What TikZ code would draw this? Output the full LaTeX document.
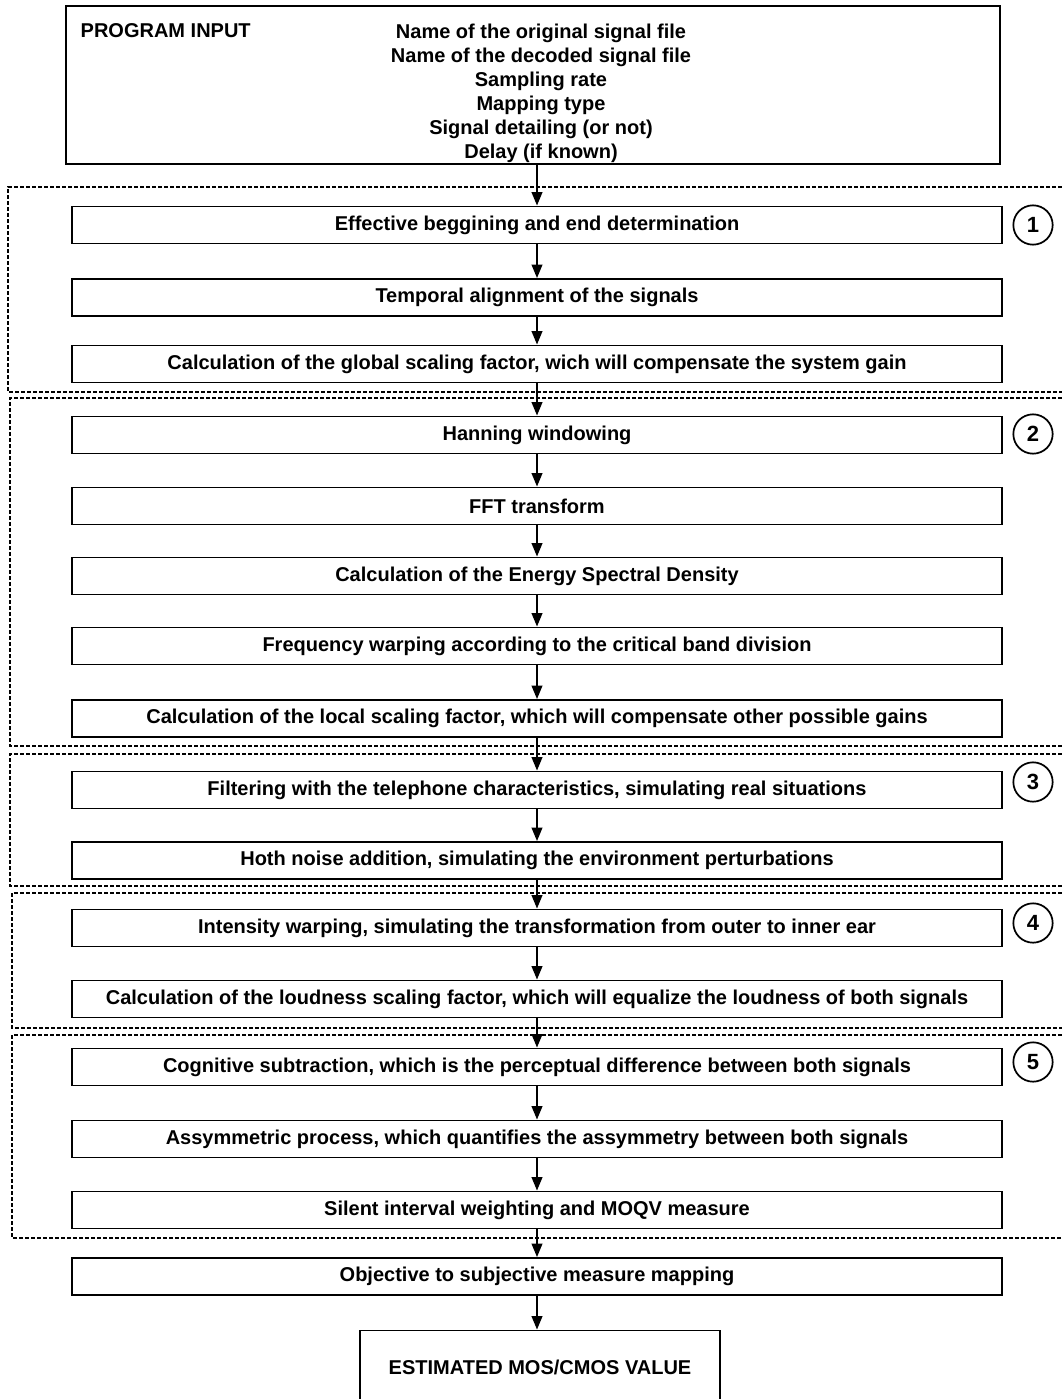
\documentclass[tikz,border=0pt]{standalone}
\usepackage{fontspec}
\setmainfont{Liberation Sans}
\usetikzlibrary{arrows.meta}
\begin{document}
\begin{tikzpicture}[x=0.75pt,y=-0.75pt,
  box/.style={draw,line width=1.2pt,minimum width=697.5pt,minimum height=28pt,inner sep=0pt,font=\fontsize{15}{17}\selectfont\bfseries},
  num/.style={draw,circle,line width=1.3pt,minimum size=29.5pt,inner sep=0pt,text height=11.5pt,text depth=0pt,font=\fontsize{16.5}{18}\selectfont\bfseries},
  grp/.style={line width=0.8pt,dash pattern=on 3pt off 1.5pt},
  arr/.style={line width=1.2pt,-{Triangle[length=10pt,width=8pt]}}]
\useasboundingbox (0,0) rectangle (1062,1399);
% input box
\node[draw,line width=1.2pt,minimum width=700.5pt,minimum height=118.5pt,inner sep=0pt] (input) at (533,85) {};
\node[anchor=west,font=\fontsize{15}{17}\selectfont\bfseries] (pin) at (76,31) {PROGRAM INPUT};
\node[align=center,anchor=north,font=\fontsize{15}{18}\selectfont\bfseries] (inlist) at (541,19)
 {Name of the original signal file\\Name of the decoded signal file\\Sampling rate\\Mapping type\\Signal detailing (or not)\\Delay (if known)};
% group outlines
\draw[grp] (1062,187) -- (8,187) -- (8,392) -- (1062,392);
\draw[grp] (1062,398) -- (10,398) -- (10,746) -- (1062,746);
\draw[grp] (1062,754) -- (10,754) -- (10,886) -- (1062,886);
\draw[grp] (1062,893) -- (12,893) -- (12,1028) -- (1062,1028);
\draw[grp] (1062,1035) -- (12,1035) -- (12,1238) -- (1062,1238);
% steps
\node[box] (b1) at (537,225) {Effective beggining and end determination};
\node[box] (b2) at (537,297.5) {Temporal alignment of the signals};
\node[box] (b3) at (537,364) {Calculation of the global scaling factor, wich will compensate the system gain};
\node[box] (b4) at (537,435) {Hanning windowing};
\node[box] (b5) at (537,506) {FFT transform};
\node[box] (b6) at (537,576) {Calculation of the Energy Spectral Density};
\node[box] (b7) at (537,646) {Frequency warping according to the critical band division};
\node[box] (b8) at (537,718.5) {Calculation of the local scaling factor, which will compensate other possible gains};
\node[box] (b9) at (537,790) {Filtering with the telephone characteristics, simulating real situations};
\node[box] (b10) at (537,860.5) {Hoth noise addition, simulating the environment perturbations};
\node[box] (b11) at (537,928) {Intensity warping, simulating the transformation from outer to inner ear};
\node[box] (b12) at (537,999) {Calculation of the loudness scaling factor, which will equalize the loudness of both signals};
\node[box] (b13) at (537,1067) {Cognitive subtraction, which is the perceptual difference between both signals};
\node[box] (b14) at (537,1139) {Assymmetric process, which quantifies the assymmetry between both signals};
\node[box] (b15) at (537,1210) {Silent interval weighting and MOQV measure};
\node[box] (b16) at (537,1276.5) {Objective to subjective measure mapping};
\node[box,minimum width=270pt,minimum height=55pt] (out) at (540,1367) {ESTIMATED MOS/CMOS VALUE};
% numbers
\node[num] (n1) at (1033,225) {1};
\node[num] (n2) at (1033,434) {2};
\node[num] (n3) at (1033,782) {3};
\node[num] (n4) at (1033,923) {4};
\node[num] (n5) at (1033,1062) {5};
% arrows
\draw[arr] (b1.north |- input.south) -- (b1.north);
\foreach \a/\b in {b1/b2,b2/b3,b3/b4,b4/b5,b5/b6,b6/b7,b7/b8,b8/b9,b9/b10,b10/b11,b11/b12,b12/b13,b13/b14,b14/b15,b15/b16}
  \draw[arr] (\a.south) -- (\b.north);
\draw[arr] (b16.south) -- (out.north -| b16.south);
\end{tikzpicture}
\end{document}
